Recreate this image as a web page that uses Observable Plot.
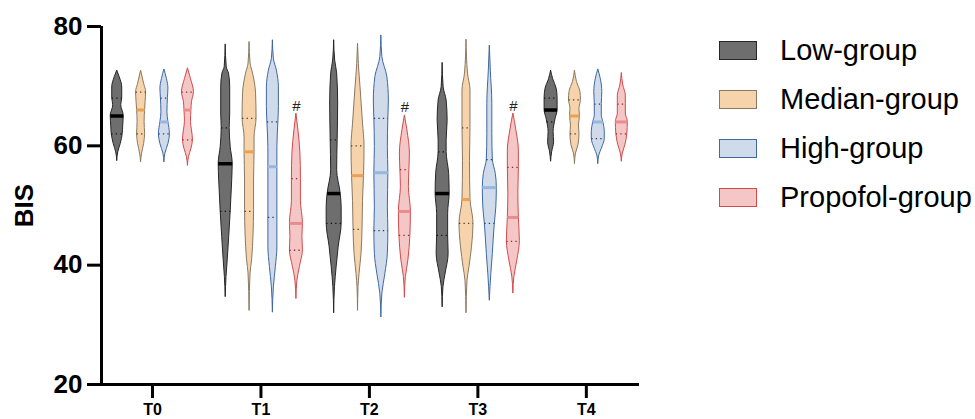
<!DOCTYPE html>
<html>
<head>
<meta charset="utf-8">
<script src="https://cdn.jsdelivr.net/npm/d3@7"></script>
<script src="https://cdn.jsdelivr.net/npm/@observablehq/plot@0.6"></script>
<style>
  body { margin: 0; background: #fff; font-family: "Liberation Sans", Arial, sans-serif; }
  #wrap { position: relative; width: 975px; height: 419px; overflow: hidden; }
  #legend { position: absolute; left: 719px; top: 26.6px; }
  .row { display: flex; align-items: center; height: 48.7px; }
  .box { width: 36px; height: 17px; margin-right: 23px; }
  .lab { font-size: 29px; color: #000; line-height: 1; }
</style>
</head>
<body>
<div id="wrap"><div id="legend"></div></div>
<script>
// ---------- data ----------
const times = ["T0", "T1", "T2", "T3", "T4"];
const groups = ["Low-group", "Median-group", "High-group", "Propofol-group"];
const yTicks = [20, 40, 60, 80];
const sigMarks = ["", "#", "#", "#", ""]; // shown above Propofol-group

// violin density profiles: [BIS value, relative density width], per time point
const lowProfiles = [
  [[72.6,0],[71.5,2.5],[69.8,5],[68,5],[66.8,4],[65,6.5],[63.4,6],[62,5.5],[60.3,3.5],[58.9,1],[57.5,0]],
  [[77,0],[73.2,1],[72.1,3.3],[69.8,4.5],[65.4,4.5],[63,4],[59.8,5],[57,7],[54.2,6.5],[49,5],[44.7,3.5],[40.8,2],[38,0.8],[34.7,0]],
  [[77.7,0],[74.3,1],[72.1,3],[67.1,4],[61,3.5],[55.9,3],[52,6.5],[49.7,7.5],[47,7.5],[43,4.5],[39.7,2.5],[36.3,0.8],[32,0]],
  [[73.9,0],[69.8,1],[67.6,4],[64.2,5],[60.9,4],[59,4],[55.3,6.5],[52,7],[48.6,5.5],[45,5.5],[41.9,6],[38.6,3],[36.3,0.8],[33,0]],
  [[72.6,0],[71.2,2],[69.6,5.5],[68,6.5],[66,6.5],[64.5,4.5],[62.3,2.5],[60.6,3],[58.9,1],[57.4,0]]
];
const medianProfiles = [
  [[72.6,0],[70.4,3],[69,5],[67.3,4.5],[66,4],[64,3.5],[62,4],[60.3,3],[58.7,1],[57.3,0]],
  [[77.4,0],[73.8,1],[72.1,3.5],[68.8,6.5],[64.6,7],[61.4,5],[59,5],[54.2,4.5],[49.2,4.5],[45.3,4],[40.8,2.5],[38.6,1],[32.4,0]],
  [[77.1,0],[73.7,0.8],[69.8,2.5],[63.7,5],[60,6.5],[55,6],[50.8,5],[46,4.5],[41.9,3.5],[38.5,1.5],[36.3,0.5],[32.4,0]],
  [[77.8,0],[72.1,1.5],[69.3,4],[63,4],[57.5,3.5],[51,4],[47,7],[43,5.5],[39.7,3],[37.4,1],[32,0]],
  [[72.6,0],[70.7,2],[69,5.5],[67.7,6],[66.2,4.5],[65,5],[63.4,4],[62,4.5],[60.1,3.5],[58.7,1],[57,0]]
];
const highProfiles = [
  [[72.8,0],[71.2,2.5],[69.6,4],[68,3.5],[65.6,3],[64,4],[62,5.5],[60.3,4],[58.7,1],[57.3,0]],
  [[77.7,0],[74.6,1],[72.6,4],[69.8,6],[66.5,6],[64,5.5],[59.8,4.5],[56.5,4.5],[52,4.5],[48,4.5],[43,4.5],[39.7,3],[36.3,1],[32.1,0]],
  [[78.5,0],[74.9,1],[71.5,6],[67.6,7.5],[64.6,7],[59.8,6.5],[55.5,7],[49.7,6.5],[45.8,7],[41.9,6.5],[38.5,4],[35.2,1],[31.3,0]],
  [[76.8,0],[72.6,1],[67,2.5],[62,2.5],[57.7,3],[55.3,6],[53,7],[49.7,6.5],[47,5],[41.9,3],[38.5,1.5],[34.1,0]],
  [[72.8,0],[71.2,2.5],[69,4],[67,3.5],[65.1,3.5],[64,5],[62.3,6.5],[61.2,6.5],[59.5,3.5],[58.4,1],[57,0]]
];
const propofolProfiles = [
  [[73,0],[71.2,3],[69,6],[67.3,4],[66,3.5],[64,3],[62.6,4],[61,5],[59.5,3.5],[58.1,1],[56.7,0]],
  [[65.4,0],[62.6,2],[58.7,4],[54.5,4.5],[50.8,4.5],[47,6.5],[44.7,6],[42.5,6.5],[39.7,3.5],[37.4,1],[34.4,0]],
  [[65.1,0],[62.6,2.5],[58.7,5],[56,4.5],[53.1,4],[49,6],[45,5.5],[40.8,3.5],[38,1],[34.6,0]],
  [[65.4,0],[62.6,3],[59.2,5.5],[56.4,5.5],[52,5],[48,5.5],[44,6.5],[40.8,4],[38,1],[35.3,0]],
  [[72.2,0],[70.1,1.5],[68.4,4],[67,4],[65.4,4],[64,6],[62,5.5],[60.1,3.5],[58.7,1],[57.4,0]]
];

// medians and quartiles per time point
const lowMedian = [65, 57, 52, 52, 66];
const lowQ1 = [62, 49, 47, 45, 64];
const lowQ3 = [68, 63, 61, 59, 68];
const medianMedian = [66, 59, 55, 51, 65];
const medianQ1 = [62, 49, 46, 47, 62];
const medianQ3 = [69, 64.6, 60, 63, 67.7];
const highMedian = [64, 56.5, 55.5, 53, 64];
const highQ1 = [62, 48, 45.8, 47, 61.2];
const highQ3 = [68, 64, 64.6, 57.7, 67];
const propofolMedian = [66, 47, 49, 48, 64];
const propofolQ1 = [61, 42.5, 45, 44, 62];
const propofolQ3 = [69, 54.5, 56, 56.4, 67];

// ---------- layout & style ----------
const W = 975, H = 419;
const mL = 101, mR = 336, mT = 26, mB = 35;
const xDomain = [-0.47, 4.49];
const pxPerUnit = (W - mL - mR) / (xDomain[1] - xDomain[0]);
const offsets = [-0.325, -0.105, 0.11, 0.327];
const styles = [
  {fill: "#6e6e6e", stroke: "#262626", med: "#000000", q: "#111111", medW: 3.5},
  {fill: "#f6d3aa", stroke: "#8a7863", med: "#e9a253", q: "#4a3a2a", medW: 3},
  {fill: "#cfdaeb", stroke: "#3f67a2", med: "#98b6df", q: "#1f3d6e", medW: 3},
  {fill: "#f5c6c6", stroke: "#d04b4b", med: "#e78d8d", q: "#8a2a2a", medW: 3}
];
const profiles = [lowProfiles, medianProfiles, highProfiles, propofolProfiles];
const medians = [lowMedian, medianMedian, highMedian, propofolMedian];
const q1s = [lowQ1, medianQ1, highQ1, propofolQ1];
const q3s = [lowQ3, medianQ3, highQ3, propofolQ3];

function widthAt(prof, v) {
  const p = prof.slice().sort((a, b) => a[0] - b[0]);
  for (let i = 0; i < p.length - 1; i++) {
    if (v >= p[i][0] && v <= p[i + 1][0]) {
      const t = (v - p[i][0]) / (p[i + 1][0] - p[i][0]);
      return p[i][1] + t * (p[i + 1][1] - p[i][1]);
    }
  }
  return 0;
}

const marks = [];
groups.forEach((g, gi) => {
  const st = styles[gi];
  const rows = [];
  profiles[gi].forEach((prof, ti) => {
    const c = ti + offsets[gi];
    prof.slice().sort((a, b) => a[0] - b[0]).forEach(([v, w]) => {
      rows.push({t: ti, v, x1: c - w / pxPerUnit, x2: c + w / pxPerUnit});
    });
  });
  marks.push(Plot.areaX(rows, {
    y: "v", x1: "x1", x2: "x2", z: "t",
    fill: st.fill, stroke: st.stroke, strokeWidth: 1, curve: "monotone-y"
  }));
});
groups.forEach((g, gi) => {
  const st = styles[gi];
  const line = (vals) => vals.map((v, ti) => {
    const c = ti + offsets[gi];
    const w = widthAt(profiles[gi][ti], v) / pxPerUnit;
    return {v, x1: c - w, x2: c + w};
  });
  marks.push(Plot.ruleY(line(q1s[gi]).concat(line(q3s[gi])), {
    y: "v", x1: "x1", x2: "x2", stroke: st.q, strokeWidth: 1.3, strokeDasharray: "1.3,3.2"
  }));
  marks.push(Plot.ruleY(line(medians[gi]), {
    y: "v", x1: "x1", x2: "x2", stroke: st.med, strokeWidth: st.medW
  }));
});
// significance marks above Propofol-group
const sigRows = sigMarks.map((s, ti) => ({s, ti, top: d3.max(propofolProfiles[ti], d => d[0])})).filter(d => d.s);
marks.push(Plot.text(sigRows, {
  x: d => d.ti + offsets[3], y: "top", text: "s", lineAnchor: "bottom", dy: -3,
  fontSize: 15, fill: "#222", fontFamily: "Liberation Sans, Arial, sans-serif"
}));

// axes
marks.push(Plot.axisY({
  ticks: yTicks, tickSize: 14, tickPadding: 5, fontSize: 26, fontWeight: "bold",
  strokeWidth: 3, label: null, fill: "#000"
}));
marks.push(Plot.axisX({
  ticks: d3.range(times.length), tickFormat: i => times[i], tickSize: 14, tickPadding: 5,
  fontSize: 16, fontWeight: "bold", strokeWidth: 3, label: null, fill: "#000"
}));
marks.push(Plot.ruleX([xDomain[0]], {strokeWidth: 3, stroke: "#000"}));
marks.push(Plot.ruleY([yTicks[0]], {strokeWidth: 3, stroke: "#000"}));
marks.push(Plot.text(["BIS"], {
  frameAnchor: "left", textAnchor: "middle", dx: -77, rotate: -90,
  fontSize: 26, fontWeight: "bold", fill: "#000"
}));

const chart = Plot.plot({
  width: W, height: H,
  marginLeft: mL, marginRight: mR, marginTop: mT, marginBottom: mB,
  style: {fontFamily: "Liberation Sans, Arial, sans-serif", background: "#fff"},
  x: {domain: xDomain, axis: null},
  y: {domain: [yTicks[0], yTicks[yTicks.length - 1]], axis: null},
  marks
});
document.getElementById("wrap").prepend(chart);

// legend
const legend = document.getElementById("legend");
groups.forEach((g, gi) => {
  const row = document.createElement("div");
  row.className = "row";
  const box = document.createElement("div");
  box.className = "box";
  box.style.background = styles[gi].fill;
  box.style.border = "1.5px solid " + styles[gi].stroke;
  const lab = document.createElement("div");
  lab.className = "lab";
  lab.textContent = g;
  row.appendChild(box);
  row.appendChild(lab);
  legend.appendChild(row);
});
</script>
</body>
</html>
